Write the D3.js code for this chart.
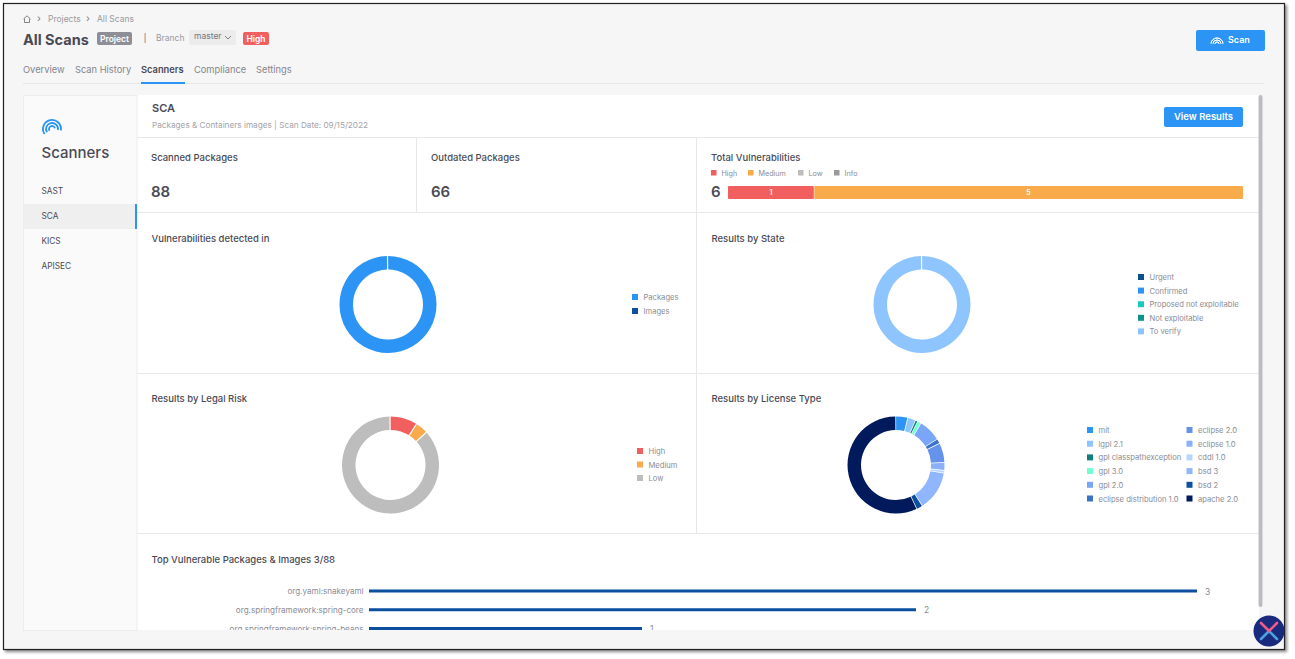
<!DOCTYPE html>
<html>
<head>
<meta charset="utf-8">
<script src="https://cdn.jsdelivr.net/npm/d3@7"></script>
<style>
  html, body { margin: 0; padding: 0; background: #fff; overflow: hidden; }
  svg { display: block; font-family: Inter, "Noto Sans", sans-serif; }
</style>
</head>
<body>
<svg width="1295" height="659"></svg>
<script>
// severity stacked bar
const severityNames = ['High', 'Medium', 'Low', 'Info']
const severityCounts = [1, 5, 0, 0]
const severityColors = ['#f25f5f', '#f9ab4b', '#bdbdbd', '#9a9a9a']

// donut: vulnerabilities detected in
const detectedNames = ['Packages', 'Images']
const detectedValues = [6, 0]
const detectedColors = ['#2b94f4', '#0b4f9e']

// donut: results by state
const stateNames = ['Urgent', 'Confirmed', 'Proposed not exploitable', 'Not exploitable', 'To verify']
const stateValues = [0, 0, 0, 0, 6]
const stateColors = ['#0b4f8f', '#2b94f4', '#19c9c0', '#0b9488', '#8fc5ff']

// donut: legal risk
const legalNames = ['High', 'Medium', 'Low']
const legalValues = [9, 4, 88]
const legalColors = ['#f25f5f', '#f9ab4b', '#bdbdbd']

// donut: license type (share in %)
const licenseNames = ['mit', 'lgpl 2.1', 'gpl classpathexception', 'gpl 3.0', 'gpl 2.0', 'eclipse distribution 1.0',
  'eclipse 2.0', 'eclipse 1.0', 'cddl 1.0', 'bsd 3', 'bsd 2', 'apache 2.0']
const licenseValues = [3.9, 2.5, 0.6, 1.1, 7.5, 1.4, 6.4, 2.5, 0.8, 13.3, 1.9, 58.1]
const licenseColors = ['#2b94f4', '#8fc5ff', '#137f7c', '#6fffd0', '#7aa6f8', '#3a72c8',
  '#6592ea', '#8ab0fa', '#b5d6ff', '#8fb6ff', '#0b4f9e', '#001a5c']

// top packages
const packageNames = ['org.yaml:snakeyaml', 'org.springframework:spring-core', 'org.springframework:spring-beans']
const packageCounts = [3, 2, 1]

const tabNames = ['Overview', 'Scan History', 'Scanners', 'Compliance', 'Settings']
const scannerNames = ['SAST', 'SCA', 'KICS', 'APISEC']

const svg = d3.select('svg')
const dark = '#4a4a55'
const grey = '#8b8b93'
const blue = '#2b94f4'

const text = (parent, x, y, str, size, color, weight, anchor) => parent.append('text')
  .attr('x', x).attr('y', y).text(str)
  .attr('font-size', size).attr('fill', color)
  .attr('font-weight', weight || 400)
  .attr('text-anchor', anchor || 'start')

const rect = (parent, x, y, w, h, fill, r) => parent.append('rect')
  .attr('x', x).attr('y', y).attr('width', w).attr('height', h)
  .attr('fill', fill).attr('rx', r || 0)

const line = (x1, y1, x2, y2, color) => svg.append('line')
  .attr('x1', x1).attr('y1', y1).attr('x2', x2).attr('y2', y2)
  .attr('stroke', color || '#e8e8ea').attr('stroke-width', 1)

// screenshot frame with shadow
const defs = svg.append('defs')
const shadow = defs.append('filter').attr('id', 'shadow').attr('x', '-2%').attr('y', '-2%').attr('width', '104%').attr('height', '104%')
shadow.append('feDropShadow').attr('dx', 2).attr('dy', 2).attr('stdDeviation', 1.5).attr('flood-color', '#000').attr('flood-opacity', 0.45)
defs.append('clipPath').attr('id', 'panelClip').append('rect').attr('x', 137).attr('y', 95).attr('width', 1122).attr('height', 535)

svg.append('rect').attr('x', 3.5).attr('y', 3.5).attr('width', 1281).attr('height', 646)
  .attr('fill', '#f6f6f6').attr('stroke', '#222').attr('stroke-width', 1.2).attr('filter', 'url(#shadow)')

// breadcrumb
const home = svg.append('g').attr('transform', 'translate(23,15)').attr('fill', 'none').attr('stroke', '#777').attr('stroke-width', 0.9)
home.append('path').attr('d', 'M0.5 4 L4 0.8 L7.5 4 M1.5 3.5 V7.5 H6.5 V3.5')
text(svg, 37, 22, '›', 10, '#777')
text(svg, 48, 22, 'Projects', 8.5, '#9a9a9f')
text(svg, 86, 22, '›', 10, '#777')
text(svg, 97, 22, 'All Scans', 8.5, '#9a9a9f')

// title row
text(svg, 23, 45, 'All Scans', 14.5, dark, 700)
rect(svg, 97, 32, 35, 13, '#8e8e96', 2)
text(svg, 114.5, 42, 'Project', 8.5, '#fff', 600, 'middle')
rect(svg, 144.5, 33, 1.2, 10, '#c79a6c')
text(svg, 156, 41, 'Branch', 8.5, '#9a9a9f')
rect(svg, 189, 30, 47, 15, '#ececec', 2)
text(svg, 194, 39, 'master', 8.5, '#77777d')
svg.append('path').attr('d', 'M225 36 L228 39 L231 36').attr('fill', 'none').attr('stroke', '#666').attr('stroke-width', 0.8)
rect(svg, 243, 32, 26, 13, '#f25f5f', 2)
text(svg, 256, 42, 'High', 8.5, '#fff', 600, 'middle')

// scan button
rect(svg, 1196, 30, 69, 21, blue, 2)
const scanIcon = svg.append('g').attr('transform', 'translate(1217,44)').attr('fill', 'none').attr('stroke', '#fff').attr('stroke-width', 0.9)
;[2, 4, 6].forEach(r => scanIcon.append('path').attr('d', d3.arc()({innerRadius: r, outerRadius: r, startAngle: -1.5, endAngle: 1.5})))
text(svg, 1228, 43, 'Scan', 9, '#fff', 600)

// tabs
const tabX = [23, 75, 141, 194, 256]
tabNames.forEach((t, i) => text(svg, tabX[i], 73, t, 9.3, i === 2 ? dark : '#85858c', i === 2 ? 600 : 400))
line(23, 83.5, 1264, 83.5)
rect(svg, 141, 82, 44, 2, blue)

// main panel
rect(svg, 23, 95, 1236, 535, '#fff')
rect(svg, 23.5, 95.5, 113.5, 535, '#fafafa').attr('stroke', '#ececee').attr('stroke-width', 1)

// sidebar
const sideIcon = svg.append('g').attr('transform', 'translate(52,129) rotate(-15)').attr('fill', 'none').attr('stroke', blue).attr('stroke-width', 1.8)
;[3, 6, 9].forEach(r => sideIcon.append('path').attr('d', d3.arc()({innerRadius: r, outerRadius: r, startAngle: -1.9, endAngle: r === 3 ? 1.6 : 2})))
text(svg, 41.5, 158, 'Scanners', 15, dark, 500)
rect(svg, 24, 204, 113, 25, '#efefef')
rect(svg, 135, 204, 2, 25, blue)
scannerNames.forEach((s, i) => text(svg, 41.5, 194 + i * 25, s, 8.3, dark))

// header of the panel
text(svg, 152, 112, 'SCA', 11, dark, 600)
text(svg, 152, 128, 'Packages & Containers images | Scan Date: 09/15/2022', 8.2, '#a3a3a8')
rect(svg, 1164, 107, 79, 20, blue, 2)
text(svg, 1203.5, 120, 'View Results', 9.5, '#fff', 600, 'middle')

// grid lines
line(137, 137.5, 1258, 137.5)
line(137, 212.5, 1258, 212.5)
line(137, 373.5, 1258, 373.5)
line(137, 533.5, 1258, 533.5)
line(416.5, 138, 416.5, 212)
line(696.5, 138, 696.5, 533)

// tiles
text(svg, 151, 161, 'Scanned Packages', 9.5, dark, 500)
text(svg, 151, 197, '88', 15, dark, 600)
text(svg, 431, 161, 'Outdated Packages', 9.5, dark, 500)
text(svg, 431, 197, '66', 15, dark, 600)
text(svg, 711, 161, 'Total Vulnerabilities', 9.5, dark, 500)
text(svg, 711, 197, '6', 15, dark, 600)

// severity legend
const sevSwatch = [711, 748, 798, 834]
severityNames.forEach((s, i) => {
  rect(svg, sevSwatch[i], 170, 5.5, 5.5, severityColors[i])
  text(svg, sevSwatch[i] + 10.5, 176, s, 7.2, grey)
})

// severity stacked bar
const stackX = d3.scaleLinear().domain([0, d3.sum(severityCounts)]).range([728, 1243])
let running = 0
severityCounts.forEach((c, i) => {
  if (c === 0) return
  const x0 = stackX(running)
  const x1 = stackX(running + c)
  rect(svg, x0 + (i ? 0.5 : 0), 186, x1 - x0 - (i ? 0.5 : 0), 13, severityColors[i], 1)
  text(svg, (x0 + x1) / 2, 194.5, c, 7, '#fff', 600, 'middle')
  running += c
})

// donuts, empty slices are left out because they would still take up padding
// the tiny 0.0001 keeps d3.arc from treating a single slice as a full circle (no gap then)
const drawDonut = (cx, cy, values, colors, pad) => {
  const slices = values.map((v, i) => ({v, color: colors[i]})).filter(d => d.v > 0)
  const pie = d3.pie().sort(null).value(d => d.v).padAngle(pad)
    .startAngle(-pad / 2).endAngle(2 * Math.PI - pad / 2 - 0.0001)
  const arc = d3.arc().innerRadius(35).outerRadius(48.5)
  svg.append('g').attr('transform', `translate(${cx},${cy})`)
    .selectAll('path').data(pie(slices)).enter()
    .append('path')
    .attr('d', arc)
    .attr('fill', d => d.data.color)
}

const drawLegend = (x, y0, names, colors, rowHeight) => {
  names.forEach((n, i) => {
    const y = y0 + i * rowHeight
    rect(svg, x, y - 3, 6, 6, colors[i])
    text(svg, x + 11.5, y + 3, n, 7.6, grey)
  })
}

text(svg, 151.5, 242, 'Vulnerabilities detected in', 9.5, dark, 500)
drawDonut(388, 304.5, detectedValues, detectedColors, 0.02)
drawLegend(632, 297, detectedNames, detectedColors, 14)

text(svg, 711.5, 242, 'Results by State', 9.5, dark, 500)
drawDonut(922, 304.5, stateValues, stateColors, 0.02)
drawLegend(1138, 277, stateNames, stateColors, 13.6)

text(svg, 151.5, 402, 'Results by Legal Risk', 9.5, dark, 500)
drawDonut(390.5, 465, legalValues, legalColors, 0.02)
drawLegend(637, 451, legalNames, legalColors, 13.5)

text(svg, 711.5, 402, 'Results by License Type', 9.5, dark, 500)
drawDonut(896, 465, licenseValues, licenseColors, 0.012)
drawLegend(1087, 430, licenseNames.slice(0, 6), licenseColors.slice(0, 6), 13.7)
drawLegend(1186.5, 430, licenseNames.slice(6), licenseColors.slice(6), 13.7)

// top packages, the last row runs under the edge of the panel
text(svg, 151.5, 563, 'Top Vulnerable Packages & Images 3/88', 9.5, dark, 500)
const barX = d3.scaleLinear().domain([0, 1, 2, 3]).range([369, 642, 916, 1197])
const barY = d3.scalePoint().domain(packageNames).range([591, 628.5])
const bars = svg.append('g').attr('clip-path', 'url(#panelClip)')

bars.selectAll('rect').data(packageNames).enter()
  .append('rect')
  .attr('x', barX(0))
  .attr('y', d => barY(d) - 1.5)
  .attr('width', (d, i) => barX(packageCounts[i]) - barX(0))
  .attr('height', 3)
  .attr('fill', '#0b4f9e')

packageNames.forEach((n, i) => {
  text(bars, 363.5, barY(n) + 3, n, 8.1, grey, 400, 'end')
  text(bars, barX(packageCounts[i]) + 8, barY(n) + 3.5, packageCounts[i], 8.5, grey)
})

// scrollbar
rect(svg, 1258.5, 95, 4, 512, '#bdbbc0', 2)

// floating logo
const logo = svg.append('g').attr('transform', 'translate(1269,631)')
logo.append('circle').attr('r', 15.5).attr('fill', '#1a2a7c')
logo.append('path').attr('d', 'M-8 8 L0 0 L8 8').attr('fill', 'none').attr('stroke', '#4aa3e0').attr('stroke-width', 2.6).attr('stroke-linecap', 'round')
logo.append('path').attr('d', 'M-8 -8 L0 0 L8 -8').attr('fill', 'none').attr('stroke', '#ef5c8a').attr('stroke-width', 2.6).attr('stroke-linecap', 'round')
</script>
</body>
</html>
